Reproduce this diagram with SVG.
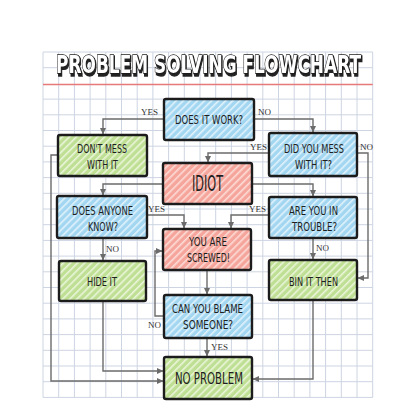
<svg xmlns="http://www.w3.org/2000/svg" width="416" height="416" viewBox="0 0 416 416">
<style>
.grid{stroke:#cdd4e2;stroke-width:1;fill:none}
.box{stroke:#1c1c1c;stroke-width:2.4;stroke-linejoin:round}
.t{font-family:"DejaVu Sans Condensed","DejaVu Sans",sans-serif;font-size:12.5px;fill:#1e1e1e;text-anchor:middle}
.lab{font-family:"Liberation Serif",serif;font-size:9px;fill:#333}
.ca{fill:none;stroke:#6b6b6b;stroke-width:1.4;marker-end:url(#ah)}
.title{font-family:"DejaVu Sans","Liberation Sans",sans-serif;font-weight:bold;font-size:24px;text-anchor:middle}
</style>
<defs>
<pattern id="pb" patternUnits="userSpaceOnUse" width="5" height="5" patternTransform="rotate(45)"><rect width="5" height="5" fill="#a2d6f1"/><rect width="1.6" height="5" fill="#e2f3fc"/></pattern>
<pattern id="pg" patternUnits="userSpaceOnUse" width="5" height="5" patternTransform="rotate(45)"><rect width="5" height="5" fill="#bfdf94"/><rect width="1.6" height="5" fill="#eaf6da"/></pattern>
<pattern id="pr" patternUnits="userSpaceOnUse" width="5" height="5" patternTransform="rotate(45)"><rect width="5" height="5" fill="#f5a59b"/><rect width="1.6" height="5" fill="#fcdcd6"/></pattern>
<marker id="ah" markerWidth="7" markerHeight="7" refX="6" refY="3.5" orient="auto" markerUnits="userSpaceOnUse"><path d="M0,0.5 L6.5,3.5 L0,6.5 Z" fill="#6b6b6b"/></marker>
<filter id="sh" x="-5%" y="-20%" width="110%" height="150%"><feMorphology in="SourceAlpha" operator="dilate" radius="0.6" result="d"/><feOffset in="d" dx="2" dy="2.2" result="o"/><feFlood flood-color="#222"/><feComposite in2="o" operator="in" result="s"/><feMerge><feMergeNode in="s"/><feMergeNode in="SourceGraphic"/></feMerge></filter>
</defs>
<rect width="416" height="416" fill="#ffffff"/>
<g id="grid">
<path class="grid" d="M43,52V397.4M58.7,52V397.4M74.4,52V397.4M90.1,52V397.4M105.8,52V397.4M121.5,52V397.4M137.2,52V397.4M152.9,52V397.4M168.6,52V397.4M184.3,52V397.4M200,52V397.4M215.7,52V397.4M231.4,52V397.4M247.1,52V397.4M262.8,52V397.4M278.5,52V397.4M294.2,52V397.4M309.9,52V397.4M325.6,52V397.4M341.3,52V397.4M357,52V397.4M372.7,52V397.4"/>
<path class="grid" d="M43,52H372.7M43,67.7H372.7M43,99.1H372.7M43,114.8H372.7M43,130.5H372.7M43,146.2H372.7M43,161.9H372.7M43,177.6H372.7M43,193.3H372.7M43,209H372.7M43,224.7H372.7M43,240.4H372.7M43,256.1H372.7M43,271.8H372.7M43,287.5H372.7M43,303.2H372.7M43,318.9H372.7M43,334.6H372.7M43,350.3H372.7M43,366H372.7M43,381.7H372.7M43,397.4H372.7"/>
<path d="M43,84.5H372.7" stroke="#e67a7a" stroke-width="1.6"/>
</g>
<g id="title">
<text class="title" transform="translate(208.5,72.5) scale(0.72,1)" x="0" y="0" textLength="423.6" lengthAdjust="spacingAndGlyphs" fill="#ffffff" stroke="#1a1a1a" stroke-width="1.4" paint-order="stroke" filter="url(#sh)">PROBLEM SOLVING FLOWCHART</text>
</g>
<g id="connectors">
<path class="ca" d="M164,119H103V134"/>
<path class="ca" d="M254,119H313V132"/>
<path class="ca" d="M269,153H208V162"/>
<path class="ca" d="M357,153H368V278H358"/>
<path class="ca" d="M163,184H103V195"/>
<path class="ca" d="M252,184H313V196"/>
<path class="ca" d="M58,155H51V381H163"/>
<path class="ca" d="M147,215H184V228"/>
<path class="ca" d="M269,215H231V228"/>
<path class="ca" d="M103,238V260"/>
<path class="ca" d="M313,238V259"/>
<path class="ca" d="M207,270V294"/>
<path class="ca" d="M164,316H155V251H162"/>
<path class="ca" d="M207,338V356"/>
<path class="ca" d="M103,301V371H163"/>
<path class="ca" d="M313,300V379H253"/>
<text class="lab" x="141" y="115">YES</text>
<text class="lab" x="258" y="115">NO</text>
<text class="lab" x="250" y="150">YES</text>
<text class="lab" x="360" y="150">NO</text>
<text class="lab" x="148" y="212">YES</text>
<text class="lab" x="249" y="212">YES</text>
<text class="lab" x="106" y="252">NO</text>
<text class="lab" x="316" y="251">NO</text>
<text class="lab" x="148" y="328">NO</text>
<text class="lab" x="211" y="350">YES</text>
</g>
<g id="n-does-it-work"><rect class="box" x="164" y="99" width="90" height="41" rx="2" fill="url(#pb)"/><text class="t" transform="translate(209,124) scale(0.75,1)" textLength="90.7" lengthAdjust="spacingAndGlyphs">DOES IT WORK?</text></g>
<g id="n-dont-mess"><rect class="box" x="58" y="135" width="89" height="41" rx="2" fill="url(#pg)"/><text class="t" transform="translate(102,153) scale(0.75,1)" textLength="66.7" lengthAdjust="spacingAndGlyphs">DON'T MESS</text><text class="t" transform="translate(102.5,169) scale(0.75,1)" textLength="41.3" lengthAdjust="spacingAndGlyphs">WITH IT</text></g>
<g id="n-did-you-mess"><rect class="box" x="269" y="133" width="88" height="43" rx="2" fill="url(#pb)"/><text class="t" transform="translate(314,153) scale(0.75,1)" textLength="80" lengthAdjust="spacingAndGlyphs">DID YOU MESS</text><text class="t" transform="translate(313.5,169) scale(0.75,1)" textLength="49.3" lengthAdjust="spacingAndGlyphs">WITH IT?</text></g>
<g id="n-idiot"><rect class="box" x="163" y="163" width="89" height="41" rx="2" fill="url(#pr)"/><text class="t" transform="translate(207.5,191) scale(0.6,1)" textLength="51.7" lengthAdjust="spacingAndGlyphs" style="font-size:21px">IDIOT</text></g>
<g id="n-does-anyone-know"><rect class="box" x="57" y="196" width="90" height="42" rx="2" fill="url(#pb)"/><text class="t" transform="translate(102.5,215) scale(0.75,1)" textLength="81.3" lengthAdjust="spacingAndGlyphs">DOES ANYONE</text><text class="t" transform="translate(103,231) scale(0.75,1)" textLength="40" lengthAdjust="spacingAndGlyphs">KNOW?</text></g>
<g id="n-are-you-in-trouble"><rect class="box" x="269" y="197" width="88" height="41" rx="2" fill="url(#pb)"/><text class="t" transform="translate(313.5,215) scale(0.75,1)" textLength="65.3" lengthAdjust="spacingAndGlyphs">ARE YOU IN</text><text class="t" transform="translate(314.5,231) scale(0.75,1)" textLength="60" lengthAdjust="spacingAndGlyphs">TROUBLE?</text></g>
<g id="n-you-are-screwed"><rect class="box" x="163" y="229" width="88" height="41" rx="2" fill="url(#pr)"/><text class="t" transform="translate(208,246) scale(0.75,1)" textLength="50.7" lengthAdjust="spacingAndGlyphs">YOU ARE</text><text class="t" transform="translate(208.5,262) scale(0.75,1)" textLength="57.3" lengthAdjust="spacingAndGlyphs">SCREWED!</text></g>
<g id="n-hide-it"><rect class="box" x="59" y="261" width="87" height="40" rx="2" fill="url(#pg)"/><text class="t" transform="translate(102,286) scale(0.75,1)" textLength="40" lengthAdjust="spacingAndGlyphs">HIDE IT</text></g>
<g id="n-bin-it-then"><rect class="box" x="269" y="260" width="88" height="40" rx="2" fill="url(#pg)"/><text class="t" transform="translate(313.5,286) scale(0.75,1)" textLength="65.3" lengthAdjust="spacingAndGlyphs">BIN IT THEN</text></g>
<g id="n-can-you-blame"><rect class="box" x="164" y="295" width="88" height="43" rx="2" fill="url(#pb)"/><text class="t" transform="translate(207.5,313) scale(0.75,1)" textLength="94.7" lengthAdjust="spacingAndGlyphs">CAN YOU BLAME</text><text class="t" transform="translate(208,329) scale(0.75,1)" textLength="66.7" lengthAdjust="spacingAndGlyphs">SOMEONE?</text></g>
<g id="n-no-problem"><rect class="box" x="164" y="357" width="88" height="42" rx="2" fill="url(#pg)"/><text class="t" transform="translate(209,384) scale(0.71,1)" textLength="95.8" lengthAdjust="spacingAndGlyphs" style="font-size:16px">NO PROBLEM</text></g>
</svg>
